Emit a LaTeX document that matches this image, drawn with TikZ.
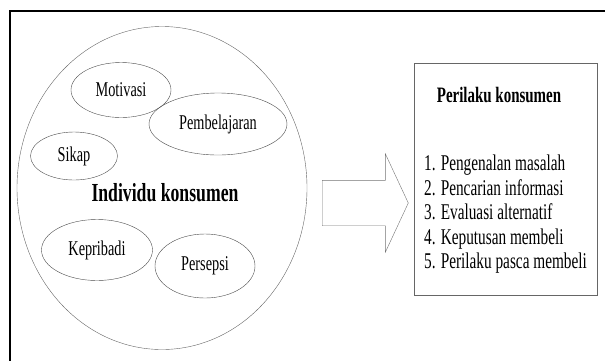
\documentclass[tikz,border=0pt]{standalone}
\usepackage{fontspec}
\setmainfont{Liberation Serif}[FakeStretch=0.68]
\usetikzlibrary{shapes.geometric,shapes.arrows}

\tikzset{
faktor/.style={draw=black!70,ellipse,inner sep=0pt,
font=\fontsize{21}{24}\selectfont},
}

\begin{document}
\begin{tikzpicture}[x=1pt,y=-1pt]
\useasboundingbox (0,0) rectangle (605,360);

\draw[line width=2.5pt] (10,362) -- (10,11) -- (607,11);

\node[draw=black!60,ellipse,
minimum width=290,minimum height=323,
inner sep=0pt](indiv) at (162,188){};

\node[font=\bfseries\fontsize{26}{28}\selectfont](indivtext) at (165,193){Individu konsumen};

\node[faktor,minimum width=100,minimum height=55](motiv) at (121,90){Motivasi};

\node[faktor,minimum width=138,minimum height=62](belajar) at (218,124){Pembelajaran};

\node[faktor,minimum width=87,minimum height=48](sikap) at (74,156){Sikap};

\node[faktor,minimum width=111,minimum height=61](pribadi) at (97,250){Kepribadi};

\node[faktor,minimum width=100,minimum height=64](persepsi) at (205,266){Persepsi};

\node[draw=black!55,single arrow,
minimum height=86,
single arrow head extend=26.5,
single arrow tip angle=130,
inner xsep=0pt,inner ysep=22.5pt](panah) at (360,203){};

\node[draw=black!60,rectangle,
minimum width=183,minimum height=232,
fill=white](perilaku) at (505.5,179){};

\node[font=\bfseries\fontsize{22}{24}\selectfont](judul) at (499,95){Perilaku konsumen};

\node[anchor=north west,align=left,inner sep=0pt,
font=\fontsize{22.5}{24.5}\selectfont](tahap) at (424,155){1. Pengenalan masalah\\
2. Pencarian informasi\\
3. Evaluasi alternatif\\
4. Keputusan membeli\\
5. Perilaku pasca membeli};
\end{tikzpicture}
\end{document}
